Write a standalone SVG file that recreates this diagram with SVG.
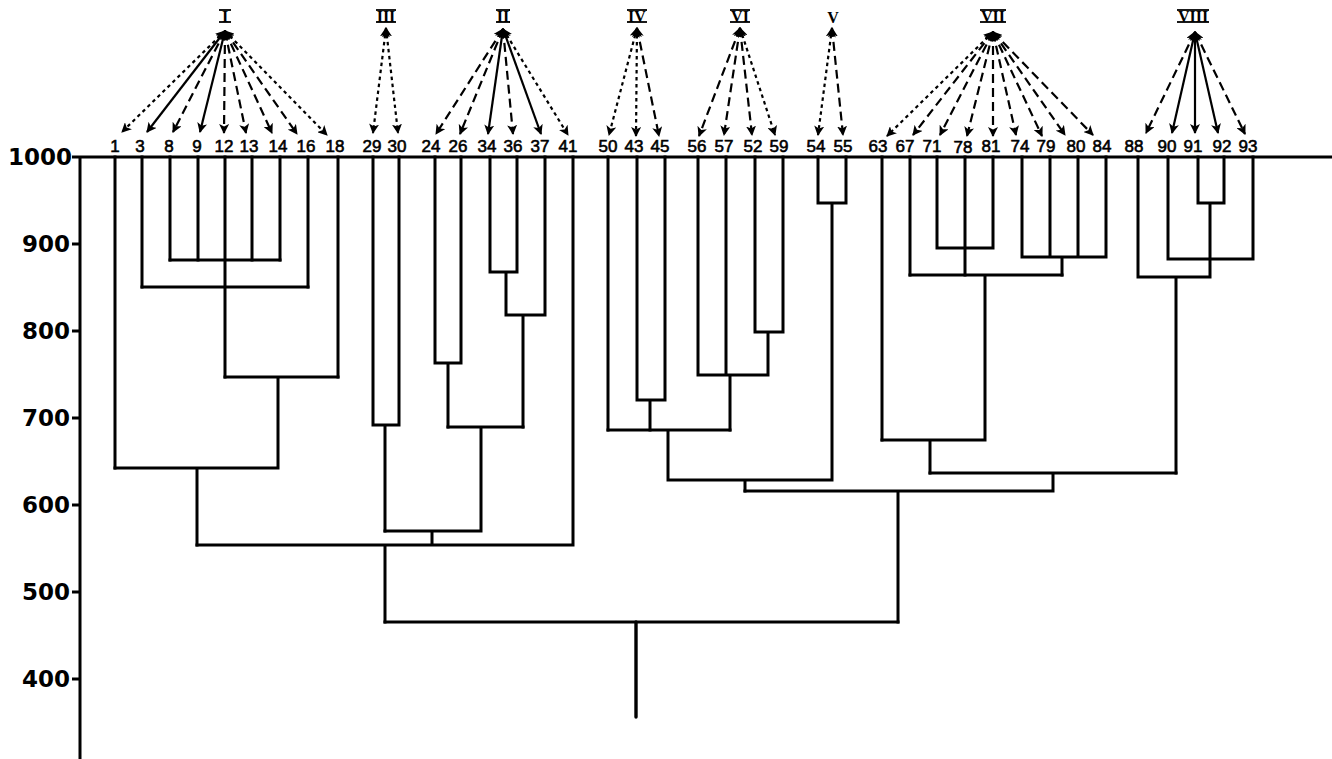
<svg xmlns="http://www.w3.org/2000/svg" width="1332" height="759" viewBox="0 0 1332 759">
  <style>
    .tree path { fill: none; stroke: #000; stroke-width: 3; stroke-linecap: square; stroke-linejoin: miter; }
    .axis line { stroke: #000; stroke-width: 3; }
    .axis text { font-family: "DejaVu Sans", sans-serif; font-weight: bold; font-size: 23px; fill: #000; text-anchor: end; }
    .leaf text { font-family: "Liberation Sans", Arial, sans-serif; font-size: 17px; fill: #000; stroke: #000; stroke-width: 0.6; text-anchor: middle; }
    .grp text { font-family: "Liberation Serif", serif; font-weight: bold; font-size: 16px; fill: #000; text-anchor: middle; }
    .grp line { stroke: #000; stroke-width: 1.8; }
    .arrows line { stroke: #000; stroke-width: 2.2; fill: none; marker-start: url(#head); marker-end: url(#head); }
    .arrows .dash { stroke-dasharray: 9 5; }
    .arrows .dot { stroke-dasharray: 3.5 3.5; }
  </style>
  <defs>
    <marker id="head" viewBox="0 0 10 10" refX="9" refY="5" markerWidth="10" markerHeight="10" markerUnits="userSpaceOnUse" orient="auto-start-reverse">
      <path d="M0,0 L10,5 L0,10 L2.5,5 z" fill="#000"/>
    </marker>
  </defs>
  <rect width="1332" height="759" fill="#fff"/>

  <!-- similarity axis -->
  <g id="axis" class="axis">
    <line x1="80" y1="157" x2="80" y2="759"/>
    <line x1="72" y1="157" x2="1332" y2="157"/>
    <line x1="72" y1="244" x2="80" y2="244"/>
    <line x1="72" y1="331" x2="80" y2="331"/>
    <line x1="72" y1="418" x2="80" y2="418"/>
    <line x1="72" y1="505" x2="80" y2="505"/>
    <line x1="72" y1="592" x2="80" y2="592"/>
    <line x1="72" y1="679" x2="80" y2="679"/>
    <text x="72" y="165">1000</text>
    <text x="70" y="252">900</text>
    <text x="70" y="339">800</text>
    <text x="70" y="426">700</text>
    <text x="70" y="513">600</text>
    <text x="70" y="600">500</text>
    <text x="70" y="687">400</text>
  </g>

  <!-- dendrogram links -->
  <g id="connectors">
    <g class="tree">
      <!-- cluster I -->
      <path d="M115 157 V468 M142 157 V287 M170 157 V260 M198 157 V260 M225 157 V377 M252 157 V260 M280 157 V260 M308 157 V287 M338 157 V377"/>
      <path d="M170 260 H280 M142 287 H308 M225 377 H338 M278 377 V468 M115 468 H278 M197 468 V545"/>
      <!-- clusters III and II -->
      <path d="M373 157 V425 M399 157 V425 M373 425 H399 M385 425 V531"/>
      <path d="M435 157 V363 M461 157 V363 M435 363 H461 M448 363 V427"/>
      <path d="M490 157 V272 M517 157 V272 M490 272 H517 M506 272 V315 M545 157 V315 M506 315 H545 M523 315 V427"/>
      <path d="M448 427 H523 M481 427 V531 M385 531 H481 M432 531 V545 M573 157 V545 M197 545 H573 M385 545 V622"/>
      <!-- clusters IV, VI and V -->
      <path d="M608 157 V430 M637 157 V400 M665 157 V400 M637 400 H665 M650 400 V430"/>
      <path d="M698 157 V375 M726 157 V375 M755 157 V332 M783 157 V332 M755 332 H783 M768 332 V375 M698 375 H768 M730 375 V430"/>
      <path d="M608 430 H730 M668 430 V480 M818 157 V203 M846 157 V203 M818 203 H846 M832 203 V480 M668 480 H832 M745 480 V491"/>
      <!-- clusters VII and VIII -->
      <path d="M882 157 V440 M910 157 V275 M937 157 V248 M993 157 V248 M937 248 H993 M965 157 V275"/>
      <path d="M1022 157 V257 M1050 157 V257 M1078 157 V257 M1106 157 V257 M1022 257 H1106 M1062 257 V275"/>
      <path d="M910 275 H1062 M985 275 V440 M882 440 H985 M930 440 V473"/>
      <path d="M1138 157 V277 M1168 157 V259 M1253 157 V259 M1168 259 H1253 M1198 157 V203 M1224 157 V203 M1198 203 H1224 M1210 203 V277 M1138 277 H1210 M1176 277 V473"/>
      <path d="M930 473 H1176 M1053 473 V491 M745 491 H1053 M898 491 V622"/>
      <!-- root -->
      <path d="M385 622 H898"/>
      <path d="M636 622 V717" style="stroke-linecap:round;stroke-width:3.4"/>
    </g>

    <!-- group arrows -->
    <g class="arrows">
      <!-- I -->
      <line class="dot" x1="225" y1="31" x2="122" y2="132"/>
      <line x1="225" y1="31" x2="147" y2="132"/>
      <line class="dash" x1="225" y1="31" x2="173" y2="132"/>
      <line x1="225" y1="31" x2="200" y2="132"/>
      <line class="dash" x1="225" y1="31" x2="224" y2="133"/>
      <line class="dash" x1="225" y1="31" x2="246" y2="133"/>
      <line class="dash" x1="225" y1="31" x2="272" y2="133"/>
      <line class="dash" x1="225" y1="31" x2="297" y2="134"/>
      <line class="dot" x1="225" y1="31" x2="327" y2="135"/>
      <!-- III -->
      <line class="dot" x1="386" y1="28" x2="373" y2="133"/>
      <line class="dot" x1="386" y1="28" x2="398" y2="133"/>
      <!-- II -->
      <line class="dash" x1="503" y1="29" x2="436" y2="134"/>
      <line class="dash" x1="503" y1="29" x2="460" y2="134"/>
      <line x1="503" y1="29" x2="488" y2="134"/>
      <line class="dash" x1="503" y1="29" x2="513" y2="134"/>
      <line x1="503" y1="29" x2="541" y2="134"/>
      <line class="dot" x1="503" y1="29" x2="568" y2="135"/>
      <!-- IV -->
      <line class="dot" x1="637" y1="28" x2="609" y2="135"/>
      <line class="dot" x1="637" y1="28" x2="636" y2="136"/>
      <line class="dash" x1="637" y1="28" x2="659" y2="136"/>
      <!-- VI -->
      <line class="dash" x1="740" y1="28" x2="699" y2="136"/>
      <line class="dash" x1="740" y1="28" x2="724" y2="135"/>
      <line class="dash" x1="740" y1="28" x2="752" y2="135"/>
      <line class="dot" x1="740" y1="28" x2="775" y2="135"/>
      <!-- V -->
      <line class="dot" x1="832" y1="28" x2="818" y2="135"/>
      <line class="dash" x1="832" y1="28" x2="843" y2="135"/>
      <!-- VII -->
      <line class="dot" x1="993" y1="32" x2="887" y2="136"/>
      <line class="dash" x1="993" y1="32" x2="913" y2="135"/>
      <line class="dash" x1="993" y1="32" x2="940" y2="135"/>
      <line class="dash" x1="993" y1="32" x2="967" y2="136"/>
      <line class="dash" x1="993" y1="32" x2="993" y2="136"/>
      <line class="dash" x1="993" y1="32" x2="1016" y2="135"/>
      <line class="dash" x1="993" y1="32" x2="1042" y2="136"/>
      <line class="dash" x1="993" y1="32" x2="1065" y2="135"/>
      <line class="dash" x1="993" y1="32" x2="1093" y2="135"/>
      <!-- VIII -->
      <line class="dash" x1="1195" y1="32" x2="1146" y2="133"/>
      <line x1="1195" y1="32" x2="1172" y2="133"/>
      <line x1="1195" y1="32" x2="1195" y2="133"/>
      <line x1="1195" y1="32" x2="1218" y2="133"/>
      <line class="dash" x1="1195" y1="32" x2="1245" y2="134"/>
    </g>
  </g>

  <!-- group labels -->
  <g id="grp-I" class="grp"><text x="225" y="22">I</text><line x1="219" y1="10" x2="231" y2="10"/><line x1="219" y1="22" x2="231" y2="22"/></g>
  <g id="grp-III" class="grp"><text x="386" y="22">III</text><line x1="376" y1="10" x2="396" y2="10"/><line x1="376" y1="22" x2="396" y2="22"/></g>
  <g id="grp-II" class="grp"><text x="503" y="22">II</text><line x1="496" y1="10" x2="510" y2="10"/><line x1="496" y1="22" x2="510" y2="22"/></g>
  <g id="grp-IV" class="grp"><text x="637" y="22">IV</text><line x1="627" y1="10" x2="647" y2="10"/><line x1="627" y1="22" x2="647" y2="22"/></g>
  <g id="grp-VI" class="grp"><text x="740" y="22">VI</text><line x1="730" y1="10" x2="750" y2="10"/><line x1="730" y1="22" x2="750" y2="22"/></g>
  <g id="grp-V" class="grp"><text x="833" y="23">V</text></g>
  <g id="grp-VII" class="grp"><text x="993" y="22">VII</text><line x1="980" y1="10" x2="1006" y2="10"/><line x1="980" y1="22" x2="1006" y2="22"/></g>
  <g id="grp-VIII" class="grp"><text x="1193" y="22">VIII</text><line x1="1177" y1="10" x2="1209" y2="10"/><line x1="1177" y1="22" x2="1209" y2="22"/></g>

  <!-- leaves -->
  <g id="leaf-1" class="leaf"><text x="115" y="152">1</text></g>
  <g id="leaf-3" class="leaf"><text x="140" y="152">3</text></g>
  <g id="leaf-8" class="leaf"><text x="169" y="152">8</text></g>
  <g id="leaf-9" class="leaf"><text x="197" y="152">9</text></g>
  <g id="leaf-12" class="leaf"><text x="224" y="152">12</text></g>
  <g id="leaf-13" class="leaf"><text x="249" y="152">13</text></g>
  <g id="leaf-14" class="leaf"><text x="278" y="152">14</text></g>
  <g id="leaf-16" class="leaf"><text x="306" y="152">16</text></g>
  <g id="leaf-18" class="leaf"><text x="335" y="152">18</text></g>
  <g id="leaf-29" class="leaf"><text x="372" y="152">29</text></g>
  <g id="leaf-30" class="leaf"><text x="397" y="152">30</text></g>
  <g id="leaf-24" class="leaf"><text x="431" y="152">24</text></g>
  <g id="leaf-26" class="leaf"><text x="458" y="152">26</text></g>
  <g id="leaf-34" class="leaf"><text x="487" y="152">34</text></g>
  <g id="leaf-36" class="leaf"><text x="513" y="152">36</text></g>
  <g id="leaf-37" class="leaf"><text x="540" y="152">37</text></g>
  <g id="leaf-41" class="leaf"><text x="568" y="152">41</text></g>
  <g id="leaf-50" class="leaf"><text x="608" y="152">50</text></g>
  <g id="leaf-43" class="leaf"><text x="634" y="152">43</text></g>
  <g id="leaf-45" class="leaf"><text x="660" y="152">45</text></g>
  <g id="leaf-56" class="leaf"><text x="697" y="152">56</text></g>
  <g id="leaf-57" class="leaf"><text x="724" y="152">57</text></g>
  <g id="leaf-52" class="leaf"><text x="753" y="152">52</text></g>
  <g id="leaf-59" class="leaf"><text x="779" y="152">59</text></g>
  <g id="leaf-54" class="leaf"><text x="816" y="152">54</text></g>
  <g id="leaf-55" class="leaf"><text x="843" y="152">55</text></g>
  <g id="leaf-63" class="leaf"><text x="878" y="152">63</text></g>
  <g id="leaf-67" class="leaf"><text x="905" y="152">67</text></g>
  <g id="leaf-71" class="leaf"><text x="932" y="152">71</text></g>
  <g id="leaf-78" class="leaf"><text x="963" y="153">78</text></g>
  <g id="leaf-81" class="leaf"><text x="991" y="152">81</text></g>
  <g id="leaf-74" class="leaf"><text x="1020" y="152">74</text></g>
  <g id="leaf-79" class="leaf"><text x="1046" y="152">79</text></g>
  <g id="leaf-80" class="leaf"><text x="1076" y="152">80</text></g>
  <g id="leaf-84" class="leaf"><text x="1102" y="152">84</text></g>
  <g id="leaf-88" class="leaf"><text x="1134" y="152">88</text></g>
  <g id="leaf-90" class="leaf"><text x="1167" y="152">90</text></g>
  <g id="leaf-91" class="leaf"><text x="1193" y="152">91</text></g>
  <g id="leaf-92" class="leaf"><text x="1222" y="152">92</text></g>
  <g id="leaf-93" class="leaf"><text x="1248" y="152">93</text></g>
</svg>
